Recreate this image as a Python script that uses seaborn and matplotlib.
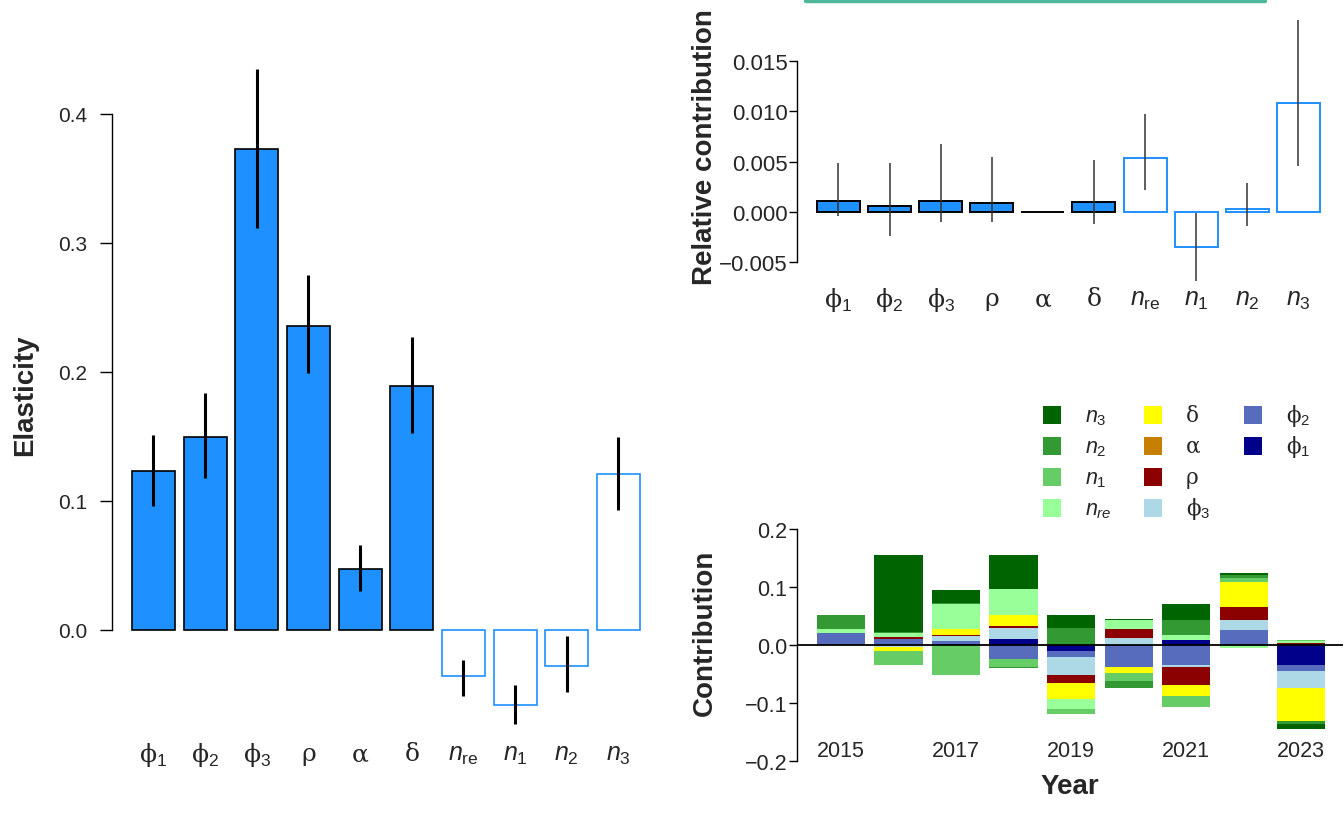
import numpy as np
import pandas as pd
import matplotlib
matplotlib.use("Agg")
import matplotlib.pyplot as plt
from matplotlib.patches import Rectangle
import seaborn as sns

# ---------------- data ----------------
params = ["phi1", "phi2", "phi3", "rho", "alpha", "delta", "nre", "n1", "n2", "n3"]
param_labels = ["ϕ$_{1}$", "ϕ$_{2}$", "ϕ$_{3}$", "ρ", "α", "δ",
                r"$n_{\mathrm{re}}$", r"$n_{1}$", r"$n_{2}$", r"$n_{3}$"]
is_vital_rate = [True, True, True, True, True, True, False, False, False, False]

# elasticities with interval bounds
elasticity = [0.123, 0.150, 0.373, 0.236, 0.047, 0.189, -0.036, -0.058, -0.028, 0.121]
elast_lo = [0.096, 0.118, 0.312, 0.199, 0.030, 0.153, -0.051, -0.073, -0.048, 0.093]
elast_hi = [0.151, 0.184, 0.435, 0.275, 0.066, 0.227, -0.023, -0.043, -0.005, 0.150]

# relative contributions with interval bounds
rel_contrib = [0.00106, 0.00063, 0.00113, 0.00093, 0.00002, 0.00103, 0.00540, -0.00344, 0.00026, 0.01083]
rel_lo = [-0.00043, -0.00238, -0.00096, -0.00100, 0.00002, -0.00116, 0.00215, -0.00685, -0.00139, 0.00454]
rel_hi = [0.00483, 0.00483, 0.00679, 0.00550, 0.00002, 0.00513, 0.00977, -0.00007, 0.00285, 0.01904]

# yearly contributions of each parameter
years = [2015, 2016, 2017, 2018, 2019, 2020, 2021, 2022, 2023]
c_phi1 = [0.0, 0.0, 0.0, 0.0103, -0.0103, 0.0, 0.0086, 0.0, -0.0345]
c_phi2 = [0.0200, 0.0100, 0.0070, -0.0240, -0.0103, -0.0380, -0.0345, 0.0259, -0.0103]
c_phi3 = [0.0, -0.0040, 0.0086, 0.0190, -0.0310, 0.0120, -0.0035, 0.0172, -0.0293]
c_rho = [0.0005, 0.0035, 0.0020, 0.0035, -0.0132, 0.0155, -0.0310, 0.0224, 0.0034]
c_alpha = [0.0010, 0.0, 0.0, 0.0, 0.0, 0.0, 0.0, 0.0, 0.0]
c_delta = [0.0, -0.0070, 0.0098, 0.0190, -0.0280, -0.0103, -0.0190, 0.0431, -0.0569]
c_nre = [0.0060, 0.0075, 0.0430, 0.0450, -0.0172, 0.0155, 0.0086, -0.0050, 0.0040]
c_n1 = [0.0, -0.0240, -0.0517, -0.0138, -0.0086, -0.0138, -0.0184, 0.0069, 0.0010]
c_n2 = [0.0240, 0.0017, 0.0017, -0.0017, 0.0290, -0.0120, 0.0259, 0.0052, -0.0052]
c_n3 = [0.0005, 0.1320, 0.0224, 0.0586, 0.0224, 0.0017, 0.0276, 0.0034, -0.0086]

year_labels = ["2015", "", "2017", "", "2019", "", "2021", "", "2023"]

stack_keys = ["phi1", "phi2", "phi3", "rho", "alpha", "delta", "nre", "n1", "n2", "n3"]
stack_values = [c_phi1, c_phi2, c_phi3, c_rho, c_alpha, c_delta, c_nre, c_n1, c_n2, c_n3]
stack_colors = ["#00008B", "#576CBC", "#ADD8E6", "#8B0000", "#C77F00",
                "#FFFF00", "#99FF99", "#66CC66", "#339933", "#006400"]
legend_labels = ["ϕ$_{1}$", "ϕ$_{2}$", "ϕ$_{3}$", "ρ", "α", "δ",
                 r"$n_{re}$", r"$n_{1}$", r"$n_{2}$", r"$n_{3}$"]

# ---------------- style ----------------
sns.set_theme(style="ticks")
plt.rcParams["font.family"] = ["Liberation Sans", "DejaVu Sans"]
plt.rcParams["mathtext.fontset"] = "custom"
plt.rcParams["mathtext.rm"] = "Liberation Sans"
plt.rcParams["mathtext.it"] = "Liberation Sans:italic"
plt.rcParams["mathtext.bf"] = "Liberation Sans:bold"

W, H = 1344, 828
fig = plt.figure(figsize=(W / 100, H / 100), dpi=100)

BLUE = "#1E90FF"
GREEK_FONT = ["DejaVu Serif", "Liberation Serif"]


def px_axes(x0, x1, y_top, y_bot):
    """Create axes from pixel bounds."""
    return fig.add_axes([x0 / W, 1 - y_bot / H, (x1 - x0) / W, (y_bot - y_top) / H])


def style_r_axis(ax, lo, hi, ticks, fmt, size, tlen, tpad):
    for s in ["top", "right", "bottom"]:
        ax.spines[s].set_visible(False)
    ax.spines["left"].set_bounds(lo, hi)
    ax.spines["left"].set_linewidth(1.0)
    ax.spines["left"].set_color("black")
    ax.set_yticks(ticks)
    ax.set_yticklabels([fmt.format(t).replace("-", "\u2212") for t in ticks])
    ax.tick_params(axis="y", length=tlen, width=1.0, color="black", labelsize=size, pad=tpad)
    ax.tick_params(axis="x", bottom=False, labelbottom=False)
    ax.set_xlabel("")
    ax.set_ylabel("")
    ax.set_facecolor("white")


def label_cats(ax, yval, size):
    for i, lab in enumerate(param_labels):
        ax.text(i, yval, lab, ha="center", va="center", fontsize=size,
                family=GREEK_FONT if i < 6 else None, clip_on=False)


def style_bars(ax, lw):
    for patch, filled in zip(ax.patches, is_vital_rate):
        if filled:
            patch.set_facecolor(BLUE)
            patch.set_edgecolor("black")
        else:
            patch.set_facecolor("white")
            patch.set_edgecolor(BLUE)
        patch.set_linewidth(lw)


# ---------------- left panel: elasticity ----------------
df_e = pd.DataFrame({"param": params, "value": elasticity})
ax1 = px_axes(112, 650, 50, 740)
sns.barplot(data=df_e, x="param", y="value", order=params, ax=ax1,
            width=0.835, errorbar=None, color=BLUE)
style_bars(ax1, 1.2)
ax1.vlines(np.arange(len(params)), elast_lo, elast_hi, color="black", lw=2.2, clip_on=False, zorder=5)
ax1.set_xlim(-0.803, 9.61)
ax1.set_ylim(-(740 - 631) / 1290, (631 - 50) / 1290)
style_r_axis(ax1, 0.0, 0.4, [0.0, 0.1, 0.2, 0.3, 0.4], "{:.1f}", 15, 9, 9)
label_cats(ax1, -(755 - 631) / 1290, 18)
ax1.text((25 - 112) / 538, 1 - (395 - 50) / 690, "Elasticity", transform=ax1.transAxes,
         rotation=90, ha="center", va="center", fontsize=20, fontweight="bold", clip_on=False)

# ---------------- top right: relative contribution ----------------
df_r = pd.DataFrame({"param": params, "value": rel_contrib})
ax2 = px_axes(797, 1330, 5, 275)
sns.barplot(data=df_r, x="param", y="value", order=params, ax=ax2,
            width=0.84, errorbar=None, color=BLUE)
style_bars(ax2, 1.4)
ax2.vlines(np.arange(len(params)), rel_lo, rel_hi, color="#333333", lw=1.1, clip_on=False, zorder=5)
s2 = 10067.0
ax2.set_xlim(-0.812, 9.62)
ax2.set_ylim(-(275 - 213) / s2, (213 - 5) / s2)
style_r_axis(ax2, -0.005, 0.015, [-0.005, 0.0, 0.005, 0.010, 0.015], "{:.3f}", 16, 6, 0.5)
label_cats(ax2, -(300 - 213) / s2, 18)
ax2.text((705 - 797) / 533, 1 - (147 - 5) / 270, "Relative contribution",
         transform=ax2.transAxes, rotation=90, ha="center", va="center",
         fontsize=20, fontweight="bold", clip_on=False)

# teal rule along the top edge
fig.add_artist(plt.Line2D([806 / W, 1265 / W], [1 - 1.5 / H, 1 - 1.5 / H],
                          color="#4DB89B", lw=3.2, transform=fig.transFigure))

# ---------------- bottom right: yearly contributions ----------------
ax3 = px_axes(797, 1343, 520, 770)
long = pd.DataFrame({
    "year": np.repeat(years, len(stack_keys)),
    "param": stack_keys * len(years),
    "value": np.array(stack_values).T.ravel(),
})
xpos = np.arange(len(years))
pos_base = np.zeros(len(years))
neg_base = np.zeros(len(years))
for key, col in zip(stack_keys, stack_colors):
    vals = long.loc[long["param"] == key, "value"].to_numpy()
    bottoms = np.where(vals >= 0, pos_base, neg_base)
    ax3.bar(xpos, vals, bottom=bottoms, width=0.835, color=col, edgecolor="none", linewidth=0)
    pos_base = pos_base + np.clip(vals, 0, None)
    neg_base = neg_base + np.clip(vals, None, 0)
ax3.axhline(0, color="black", lw=1.3, zorder=6)
s3 = 580.0
ax3.set_xlim(-0.765, 8.73)
ax3.set_ylim(-(770 - 646) / s3, (646 - 520) / s3)
style_r_axis(ax3, -0.2, 0.2, [-0.2, -0.1, 0.0, 0.1, 0.2], "{:.1f}", 15.5, 6, 1)
for i, lab in enumerate(year_labels):
    ax3.text(i, -(752 - 646) / s3, lab, ha="center", va="center", fontsize=15.5)
ax3.text((1070 - 797) / 546, 1 - (787 - 520) / 250, "Year", transform=ax3.transAxes,
         ha="center", va="center", fontsize=20, fontweight="bold", clip_on=False)
ax3.text((705 - 797) / 546, 1 - (633 - 520) / 250, "Contribution", transform=ax3.transAxes,
         rotation=90, ha="center", va="center", fontsize=20, fontweight="bold", clip_on=False)

# legend key: three columns on a shared row grid, top layer first
key_colors = stack_colors[::-1]
key_labels = legend_labels[::-1]
col_x = [1043, 1144, 1244]
row_y = [416, 447, 478, 509]
box = 18
for k, (c, lab) in enumerate(zip(key_colors, key_labels)):
    cx = col_x[k // 4]
    ry = row_y[k % 4]
    fig.add_artist(Rectangle((cx / W, 1 - (ry + box / 2) / H), box / W, box / H,
                             facecolor=c, edgecolor="none", transform=fig.transFigure))
    fig.text((cx + 42) / W, 1 - (ry + 6) / H, lab, ha="left", va="baseline", fontsize=15.5,
             family=None if lab.startswith("$") else GREEK_FONT)

fig.savefig("out.png", dpi=100, facecolor="white")
